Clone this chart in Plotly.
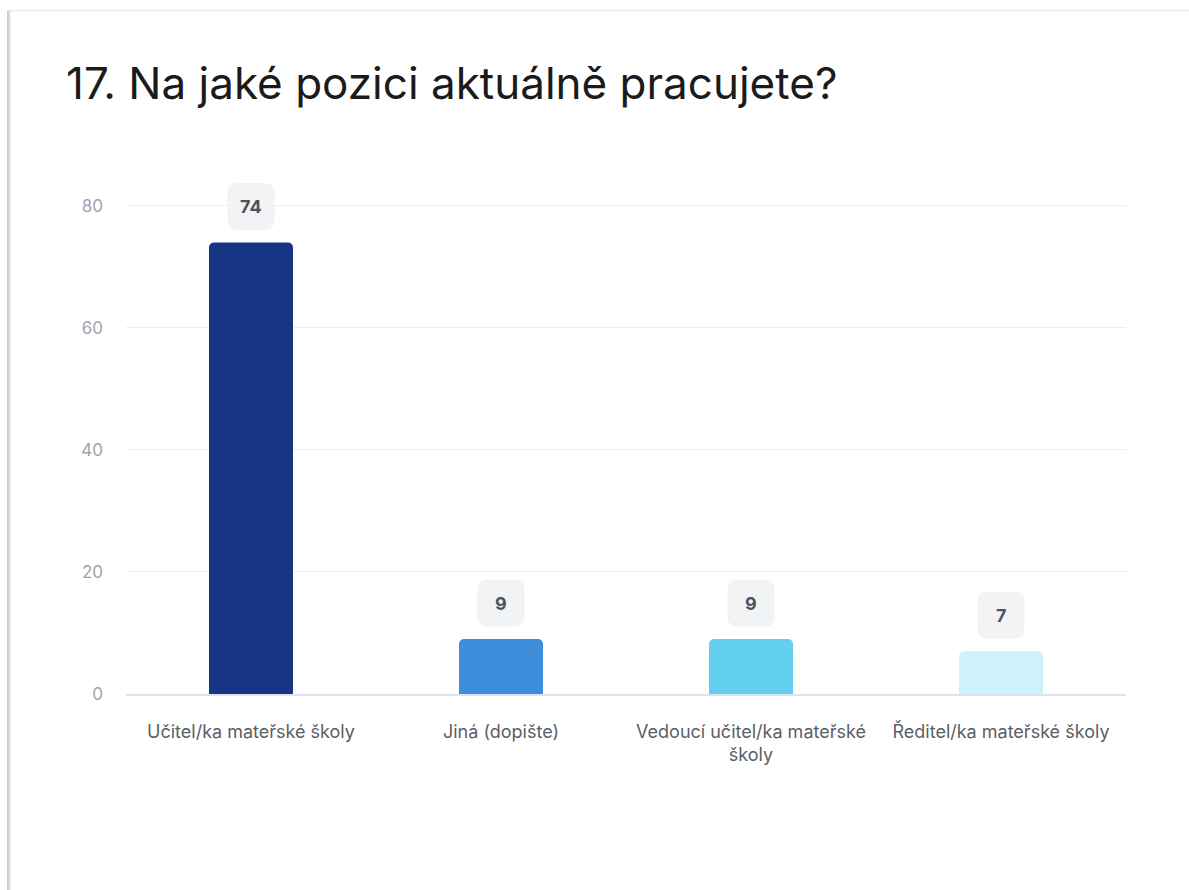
import plotly.graph_objects as go

# Survey question 17: current position
categories = [
    "Učitel/ka mateřské školy",
    "Jiná (dopište)",
    "Vedoucí učitel/ka mateřské<br>školy",
    "Ředitel/ka mateřské školy",
]
counts = [74, 9, 9, 7]
bar_colors = ["#173583", "#3d8dda", "#63d0f2", "#cef2fb"]
y_ticks = [0, 20, 40, 60, 80]
title_text = "17. Na jaké pozici aktuálně pracujete?"

W, H = 1189, 890
Y_MAX = 88  # headroom so the badges above tall bars are not clipped
L, R, B = 126, 63, 196
T = (H - B) - 6.1 * Y_MAX
FONT = "Inter, Roboto, sans-serif"

fig = go.Figure()
fig.add_trace(go.Bar(
    x=categories,
    y=counts,
    marker=dict(color=bar_colors, line=dict(width=0), cornerradius=5),
    width=0.336,
    hoverinfo="x+y",
    showlegend=False,
))


def rounded_box(w, h, r, cy):
    """Rounded rectangle path in pixel offsets, centred horizontally, centred vertically at cy."""
    x0, x1 = -w / 2, w / 2
    y0, y1 = cy - h / 2, cy + h / 2
    return (
        f"M {x0 + r},{y0} L {x1 - r},{y0} Q {x1},{y0} {x1},{y0 + r} "
        f"L {x1},{y1 - r} Q {x1},{y1} {x1 - r},{y1} "
        f"L {x0 + r},{y1} Q {x0},{y1} {x0},{y1 - r} "
        f"L {x0},{y0 + r} Q {x0},{y0} {x0 + r},{y0} Z"
    )


# Value badges above each bar
BADGE_OFFSET = 36
shapes = []
annotations = []
for cat, val in zip(categories, counts):
    shapes.append(dict(
        type="path", xref="x", yref="y",
        xsizemode="pixel", ysizemode="pixel",
        xanchor=cat, yanchor=val,
        path=rounded_box(47, 47, 10, BADGE_OFFSET),
        fillcolor="#f2f3f4", line=dict(width=0), layer="above",
    ))
    annotations.append(dict(
        x=cat, y=val, xref="x", yref="y", yshift=BADGE_OFFSET,
        text=f"<b>{val}</b>", showarrow=False,
        font=dict(family=FONT, size=18, color="#4b5361"),
        xanchor="center", yanchor="middle",
    ))

# Card outline: left edge and top edge
px = lambda x: (x - L) / (W - L - R)
py = lambda y: (H - B - y) / (H - T - B)
shapes.append(dict(type="line", xref="paper", yref="paper",
                   x0=px(8), x1=px(8), y0=py(11), y1=py(H + 5),
                   line=dict(color="#cccccc", width=2), layer="below"))
shapes.append(dict(type="line", xref="paper", yref="paper",
                   x0=px(10), x1=px(10), y0=py(11), y1=py(H + 5),
                   line=dict(color="#ececec", width=2), layer="below"))
shapes.append(dict(type="line", xref="paper", yref="paper",
                   x0=px(8), x1=px(W + 5), y0=py(11), y1=py(11),
                   line=dict(color="#e4e4e4", width=1), layer="below"))

fig.update_layout(
    width=W, height=H,
    margin=dict(l=L, r=R, t=T, b=B, pad=0),
    paper_bgcolor="white", plot_bgcolor="white",
    title=dict(
        text=title_text, xref="container", x=66 / W, xanchor="left",
        yref="container", y=1 - 84 / H, yanchor="middle",
        font=dict(family=FONT, size=44, color="#1b1b1b"),
    ),
    bargap=0.664,
    shapes=shapes,
    annotations=annotations,
    font=dict(family=FONT),
)
fig.update_xaxes(
    showgrid=False, showline=True, linecolor="#dbe3f0", linewidth=2,
    ticks="", tickfont=dict(family=FONT, size=18, color="#5a5f66"),
    ticklabelstandoff=20, fixedrange=True,
)
fig.update_yaxes(
    range=[0, Y_MAX], tickvals=y_ticks, showgrid=True, gridcolor="#ebeef2",
    gridwidth=1, zeroline=False, showline=False, ticks="",
    tickfont=dict(family=FONT, size=17, color="#a0a4aa"),
    ticklabelstandoff=22, fixedrange=True,
)

fig.write_html("out.html")
